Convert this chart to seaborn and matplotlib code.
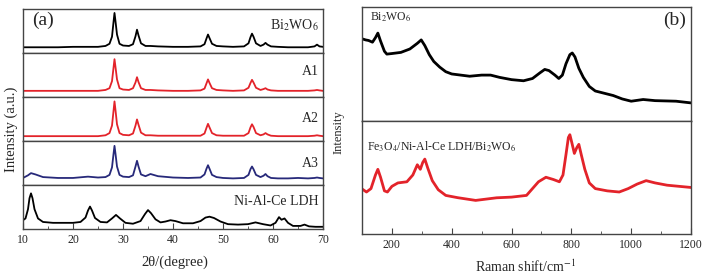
import numpy as np
import pandas as pd
import matplotlib.pyplot as plt
from matplotlib.ticker import MultipleLocator
import seaborn as sns

sns.set_style("ticks")
plt.rcParams['font.family'] = ['Liberation Serif', 'DejaVu Serif']
plt.rcParams['mathtext.fontset'] = 'stix'

# ---- XRD data (a), intensity read as % of each row height ----
two_theta = [10, 11, 11.6, 12.5, 14, 17, 20, 23, 25, 26.5, 27.3, 27.8, 28.1, 28.3, 28.5,
             28.8, 29.3, 30, 31.2, 32.0, 32.5, 32.8, 33.1, 33.6, 34.5, 35.5, 37, 40, 43,
             45.5, 46.3, 46.7, 47.0, 47.3, 47.8, 48.7, 50, 52, 54.2, 55.1, 55.5, 55.8,
             56.1, 56.6, 57.5, 58.1, 58.5, 58.9, 59.6, 61, 63, 65, 67, 68.3, 68.8, 69.3, 70]

bwo = [13, 13, 13, 13, 13, 13, 14, 14, 14, 16, 21, 37, 70, 91, 72,
       42, 21, 17, 16, 20, 38, 53, 40, 22, 16, 16, 15, 14, 14,
       15, 20, 33, 42, 34, 21, 16, 15, 14, 15, 22, 36, 44,
       37, 22, 16, 19, 23, 19, 15, 14, 13, 13, 13, 15, 19, 15, 14]

a1 = [14, 14, 14, 14, 14, 14, 14, 14, 14, 16, 20, 36, 66, 86, 68,
      40, 20, 17, 16, 20, 33, 45, 34, 20, 16, 16, 15, 14, 14,
      15, 19, 31, 40, 32, 20, 16, 15, 14, 15, 21, 32, 39,
      33, 21, 16, 18, 20, 17, 15, 14, 14, 14, 14, 15, 16, 15, 14]

a2 = [11, 11, 11, 11, 11, 11, 11, 11, 11, 13, 18, 35, 68, 90, 70,
      38, 18, 14, 13, 17, 35, 49, 37, 19, 13, 13, 12, 12, 12,
      12, 17, 30, 39, 31, 18, 13, 12, 12, 12, 18, 31, 38,
      32, 18, 13, 15, 18, 15, 12, 11, 11, 11, 11, 12, 13, 12, 11]

a3 = [16, 22, 27, 24, 18, 16, 16, 19, 17, 18, 23, 40, 70, 89, 71,
      42, 23, 19, 18, 22, 42, 55, 42, 24, 20, 25, 20, 17, 16,
      17, 24, 37, 45, 37, 23, 18, 16, 15, 16, 23, 36, 42,
      36, 23, 18, 21, 25, 20, 16, 15, 15, 16, 15, 16, 17, 16, 15]

two_theta_ldh = [10, 10.5, 11.0, 11.3, 11.6, 11.9, 12.3, 13, 14, 16, 18, 20, 21.5, 22.5,
                 23.0, 23.4, 23.8, 24.4, 25.5, 26.8, 27.8, 28.6, 29.4, 30.5, 32, 33.5,
                 34.4, 35.0, 35.6, 36.5, 37.5, 38.5, 39.5, 40.5, 42, 44, 45.5, 46.5, 47.3,
                 48.2, 49.5, 51, 53, 55, 56.5, 58, 59.5, 60.5, 61.2, 61.7, 62.3, 63, 64,
                 65.5, 66.3, 67.2, 68.5, 70]
ldh = [20, 24, 45, 70, 81, 70, 45, 24, 16, 14, 14, 14, 16, 26,
       42, 51, 42, 25, 16, 15, 24, 32, 24, 14, 12, 18,
       34, 43, 36, 22, 15, 17, 20, 18, 13, 13, 18, 26, 28,
       25, 17, 11, 10, 11, 15, 11, 8, 14, 27, 21, 24, 14, 7,
       7, 10, 6, 5, 5]

xrd_rows = [("bwo", bwo, r"Bi$_2$WO$_6$", "black", 0.63),
            ("a1", a1, "A1", "#e3232a", 0.575),
            ("a2", a2, "A2", "#e3232a", 0.50),
            ("a3", a3, "A3", "#27297a", 0.48)]

# ---- Raman data (b), intensity read as % of each half height ----
raman_bwo_x = [100, 112, 122, 135, 145, 153, 162, 175, 183, 200, 230, 260, 285, 298, 310,
               325, 340, 360, 380, 400, 430, 460, 500, 530, 560, 600, 640, 670, 695, 711,
               725, 745, 758, 770, 782, 795, 803, 812, 825, 840, 860, 880, 910, 940, 970,
               1000, 1040, 1080, 1150, 1200]
raman_bwo = [72, 71, 70.5, 69, 73, 77, 70, 61, 58.5, 59, 60, 63, 68, 71, 66,
             58, 52, 47, 43, 41, 40, 39, 40, 40, 38, 36, 35, 37, 42, 45,
             44, 40, 37, 40, 50, 58, 59.5, 56, 46, 38, 30, 26, 24, 22, 19,
             17, 18.5, 17.5, 17, 15.5]

raman_comp_x = [100, 115, 130, 145, 153, 162, 175, 185, 200, 220, 250, 270, 285, 295, 303,
                310, 320, 335, 355, 380, 420, 480, 550, 600, 650, 670, 690, 715, 740, 760,
                772, 782, 790, 795, 802, 810, 818, 825, 833, 845, 860, 880, 920, 960, 990,
                1020, 1050, 1080, 1120, 1200]
raman_comp = [39.7, 37, 40, 52, 57, 50, 38, 37, 42, 45, 46, 52, 61, 57, 63,
              66, 58, 47, 39, 34, 32, 29.6, 31.9, 32.5, 34, 40, 46, 50, 48, 46,
              52, 70, 85, 87.5, 80, 71, 76, 79, 70, 57, 45, 40, 38, 37, 40,
              44, 47, 45, 43, 41]

W, H = 707, 277
fig = plt.figure(figsize=(W / 100, H / 100), dpi=100)
spine_col = "#444444"


def style_ax(ax, xlim, bottom=False):
    ax.set_xlim(*xlim)
    ax.set_ylim(0, 100)
    ax.set_yticks([])
    ax.set_ylabel("")
    ax.set_xlabel("")
    for s in ax.spines.values():
        s.set_visible(True)
        s.set_color(spine_col)
        s.set_linewidth(1.0)
    if not bottom:
        ax.tick_params(axis='x', which='both', bottom=False, labelbottom=False)


# panel (a)
gs_a = fig.add_gridspec(5, 1, left=23 / W, right=323 / W, bottom=1 - 229 / H, top=1 - 9 / H, hspace=0)
axes_a = [fig.add_subplot(gs_a[i]) for i in range(5)]
for ax, (key, vals, label, col, ty) in zip(axes_a[:4], xrd_rows):
    sns.lineplot(x=two_theta, y=vals, ax=ax, color=col, lw=1.3)
    style_ax(ax, (10, 70))
    ax.text(0.985, ty, label, transform=ax.transAxes, ha="right", va="center", fontsize=10)
sns.lineplot(x=two_theta_ldh, y=ldh, ax=axes_a[4], color="black", lw=1.3)
style_ax(axes_a[4], (10, 70), bottom=True)
axes_a[4].text(0.985, 0.62, "Ni-Al-Ce LDH", transform=axes_a[4].transAxes, ha="right", va="center", fontsize=10)
axes_a[4].xaxis.set_major_locator(MultipleLocator(10))
axes_a[4].xaxis.set_minor_locator(MultipleLocator(5))
axes_a[4].tick_params(axis='x', which='both', direction='in', color=spine_col, labelsize=8.5)
axes_a[4].tick_params(axis='x', which='major', length=4)
axes_a[4].tick_params(axis='x', which='minor', length=2.5)
axes_a[0].text(0.03, 0.74, "(a)", transform=axes_a[0].transAxes, ha="left", va="center", fontsize=14)
fig.text(175 / W, 1 - 262 / H, "2θ/(degree)", ha="center", va="center", fontsize=10.5)
fig.text(11 / W, 1 - 129 / H, "Intensity (a.u.)", ha="center", va="center", rotation=90, fontsize=10.5)

# panel (b)
gs_b = fig.add_gridspec(2, 1, left=362 / W, right=691 / W, bottom=1 - 234 / H, top=1 - 7 / H, hspace=0)
ax_b1 = fig.add_subplot(gs_b[0])
ax_b2 = fig.add_subplot(gs_b[1])
sns.lineplot(x=raman_bwo_x, y=raman_bwo, ax=ax_b1, color="black", lw=2.0)
sns.lineplot(x=raman_comp_x, y=raman_comp, ax=ax_b2, color="#e3232a", lw=2.0)
style_ax(ax_b1, (100, 1200))
style_ax(ax_b2, (100, 1200), bottom=True)
ax_b2.xaxis.set_major_locator(MultipleLocator(200))
ax_b2.xaxis.set_minor_locator(MultipleLocator(100))
ax_b2.tick_params(axis='x', which='both', direction='in', color=spine_col, labelsize=8.5)
ax_b2.tick_params(axis='x', which='major', length=4)
ax_b2.tick_params(axis='x', which='minor', length=2.5)
ax_b1.text(0.025, 0.91, r"Bi$_2$WO$_6$", transform=ax_b1.transAxes, ha="left", va="center", fontsize=8.5)
ax_b2.text(0.015, 0.77, r"Fe$_3$O$_4$/Ni-Al-Ce LDH/Bi$_2$WO$_6$", transform=ax_b2.transAxes,
           ha="left", va="center", fontsize=8.5)
ax_b1.text(0.985, 0.88, "(b)", transform=ax_b1.transAxes, ha="right", va="center", fontsize=14)
fig.text(526 / W, 1 - 267 / H, r"Raman shift/cm$^{-1}$", ha="center", va="center", fontsize=10)
fig.text(339 / W, 1 - 132 / H, "Intensity", ha="center", va="center", rotation=90, fontsize=9)

fig.savefig("out.png", dpi=100)
